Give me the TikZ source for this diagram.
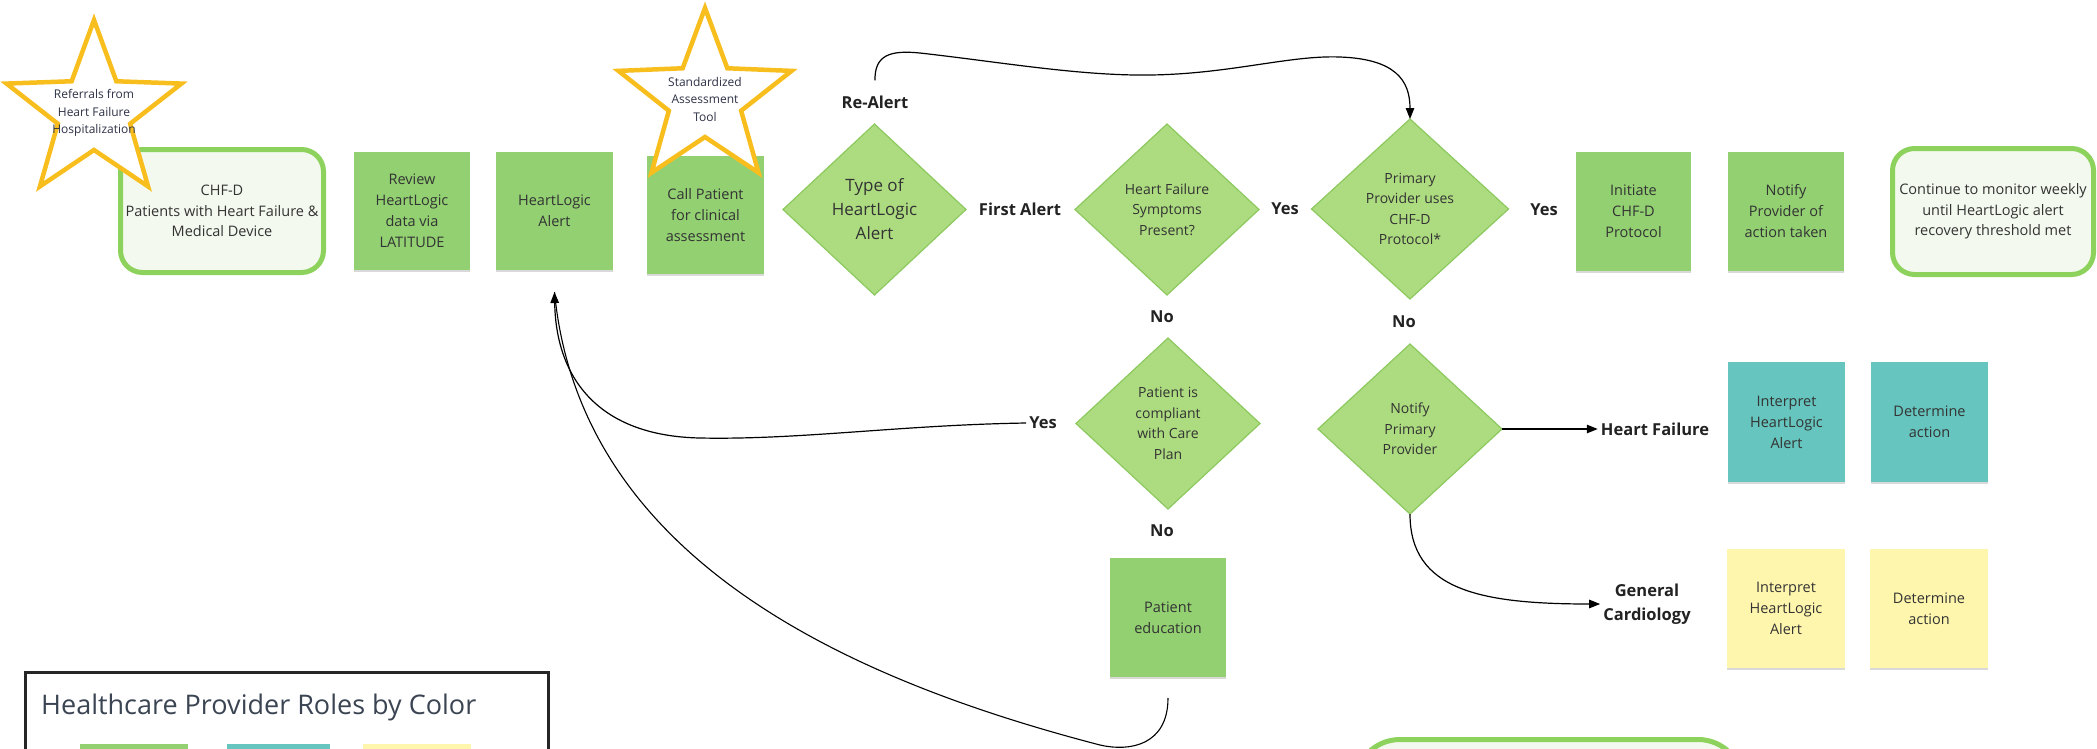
\documentclass[tikz,border=0pt]{standalone}
\usepackage{fontspec}
\setmainfont{Open Sans}
\usetikzlibrary{shapes.geometric,arrows.meta,calc,shadows}
\definecolor{boxgreen}{HTML}{92D072}
\definecolor{diagreen}{HTML}{ADDC80}
\definecolor{diaborder}{HTML}{8CC95E}
\definecolor{roundborder}{HTML}{8ED25E}
\definecolor{roundfill}{HTML}{F3F9EE}
\definecolor{tealbox}{HTML}{66C5BE}
\definecolor{yellowbox}{HTML}{FFF6AE}
\definecolor{stargold}{HTML}{F7BE1E}
\definecolor{txt}{HTML}{333333}
\definecolor{startxt}{HTML}{2E3246}
\definecolor{legtxt}{HTML}{3B4452}
\definecolor{lbltxt}{HTML}{222222}
\begin{document}
\begin{tikzpicture}[x=1pt,y=-1pt,
  every node/.style={text=txt},
  box/.style={fill=boxgreen, minimum width=117pt, minimum height=119pt, align=center,
    inner sep=0pt, outer sep=0pt, font=\fontsize{14.5}{21}\selectfont,
    drop shadow={shadow xshift=0pt, shadow yshift=-2pt, opacity=0.15, fill=black}},
  tealb/.style={box, fill=tealbox},
  yellowb/.style={box, fill=yellowbox},
  rbox/.style={draw=roundborder, line width=5pt, fill=roundfill, rounded corners=22pt,
    align=center, inner sep=0pt, outer sep=0pt, font=\fontsize{14.5}{20.5}\selectfont},
  dia/.style={diamond, aspect=1, draw=diaborder, line width=1.2pt, fill=diagreen,
    inner sep=0pt, outer sep=0pt},
  dtext/.style={align=center, inner sep=0pt, font=\fontsize{14}{20.4}\selectfont},
  lbl/.style={font=\bfseries\fontsize{16.5}{24}\selectfont, text=lbltxt, inner sep=3pt, align=center},
  starline/.style={draw=stargold, line width=4.5pt, fill=white, line join=miter},
  stext/.style={align=center, inner sep=0pt, text=startxt, font=\fontsize{12}{17.5}\selectfont},
  conn/.style={draw=black, line width=1.2pt, -{Triangle[length=11pt,width=8.5pt]}},
  plainconn/.style={draw=black, line width=1.1pt},
  legbox/.style={draw=black!85, line width=3pt, inner sep=0pt, outer sep=0pt},
  swatch/.style={inner sep=0pt, outer sep=0pt, minimum height=70pt}
]
\useasboundingbox (0,0) rectangle (2097,748);
\clip (0,0) rectangle (2097,748);

% ---------- top row ----------
\node[rbox, minimum width=203pt, minimum height=123pt] (chfd) at (222,211)
  {CHF-D\\Patients with Heart Failure \&\\Medical Device};
\node[box, minimum width=116pt, minimum height=118pt] (review) at (412,211)
  {Review\\HeartLogic\\data via\\LATITUDE};
\node[box, minimum width=117pt, minimum height=118pt] (hlalert) at (554.5,211)
  {HeartLogic\\Alert};
\node[box, minimum width=117pt, minimum height=118pt] (call) at (705.5,215)
  {Call Patient\\for clinical\\assessment};

% stars
\draw[starline, shift={(94,112)}] (-90:92) -- (-54:38) -- (-18:92) -- (18:38) -- (54:92)
  -- (90:38) -- (126:92) -- (162:38) -- (198:92) -- (234:38) -- cycle;
\node[stext] (star1t) at (94,113) {Referrals from\\Heart Failure\\Hospitalization};
\draw[starline, shift={(705,99)}] (-90:91) -- (-54:38) -- (-18:91) -- (18:38) -- (54:91)
  -- (90:38) -- (126:91) -- (162:38) -- (198:91) -- (234:38) -- cycle;
\node[stext] (star2t) at (705,99) {Standardized\\Assessment\\Tool};

\node[dia, minimum width=183pt, minimum height=171pt] (d1) at (874.5,209.5) {};
\node[dtext, font=\fontsize{17}{24}\selectfont] (d1t) at (d1) {Type of\\HeartLogic\\Alert};
\node[lbl] (realert) at (875,102) {Re-Alert};
\node[lbl] (firstalert) at (1020,209) {First Alert};

\node[dia, minimum width=184pt, minimum height=171pt] (d2) at (1167,209.5) {};
\node[dtext] (d2t) at (d2) {Heart Failure\\Symptoms\\Present?};
\node[lbl] (yes1) at (1285,209) {Yes};

\node[dia, minimum width=197pt, minimum height=180pt] (d3) at (1410,209) {};
\node[dtext] (d3t) at (d3) {Primary\\Provider uses\\CHF-D\\Protocol*};
\node[lbl] (yes2) at (1544,210) {Yes};

\node[box, minimum width=115pt] (initiate) at (1633.5,211.5) {Initiate\\CHF-D\\Protocol};
\node[box, minimum width=116pt] (notify) at (1786,211.5) {Notify\\Provider of\\action taken};
\node[rbox, minimum width=201pt, minimum height=126pt] (continue) at (1993,211.5)
  {Continue to monitor weekly\\until HeartLogic alert\\recovery threshold met};

% ---------- middle ----------
\node[lbl] (no1) at (1162,317) {No};
\node[lbl] (no2) at (1404,322) {No};

\node[dia, minimum width=184pt, minimum height=171pt] (d4) at (1168,423.5) {};
\node[dtext] (d4t) at (d4) {Patient is\\compliant\\with Care\\Plan};
\node[lbl] (yes3) at (1043,423) {Yes};

\node[dia, minimum width=184pt, minimum height=170pt] (d5) at (1410,429) {};
\node[dtext] (d5t) at (d5) {Notify\\Primary\\Provider};

\node[lbl] (hf) at (1655,429) {Heart Failure};
\node[lbl, font=\bfseries\fontsize{16.5}{24}\selectfont] (gc) at (1647,604) {General\\Cardiology};

\node[tealb, minimum width=117pt, minimum height=120pt] (interp1) at (1786.5,422) {Interpret\\HeartLogic\\Alert};
\node[tealb, minimum width=117pt, minimum height=120pt] (det1) at (1929.5,422) {Determine\\action};

\node[lbl] (no3) at (1162,531) {No};
\node[box, minimum width=116pt, minimum height=119pt] (pated) at (1168,617.5) {Patient\\education};

\node[yellowb, minimum width=118pt, minimum height=119pt] (interp2) at (1786,608.5) {Interpret\\HeartLogic\\Alert};
\node[yellowb, minimum width=118pt, minimum height=119pt] (det2) at (1929,608.5) {Determine\\action};

% ---------- legend & bottom box ----------
\node[legbox, minimum width=523pt, minimum height=160pt, anchor=north west] (legend) at (25,672) {};
\node[anchor=west, inner sep=0pt, text=legtxt, font=\fontsize{27}{32}\selectfont] (legtitle) at (41,707)
  {Healthcare Provider Roles by Color};
\node[swatch, fill=boxgreen, minimum width=108pt, anchor=north west] (swg) at (80,744) {};
\node[swatch, fill=tealbox, minimum width=103pt, anchor=north west] (swt) at (227,744) {};
\node[swatch, fill=yellowbox, minimum width=108pt, anchor=north west] (swy) at (363,744) {};
\node[rbox, rounded corners=45pt, minimum width=388pt, minimum height=110pt, anchor=north west] (bottombox) at (1355,739.5) {};

% ---------- connectors ----------
\coordinate (rastart) at ($(realert.north)+(0,-12)$);
\draw[conn] (rastart) .. controls (874.5,55) and (890,50) .. (920,53)
  .. controls (1000,62) and (1080,76) .. (1150,75)
  .. controls (1230,74) and (1290,55) .. (1340,57)
  .. controls (1395,59) and (1410,80) .. (d3.north);

\coordinate (hltip) at ($(hlalert.south)+(0,22)$);
\coordinate (pedout) at ($(pated.south)+(0,21)$);
\draw[plainconn] (pedout) .. controls (1168,745) and (1130,752) .. (1100,745)
  .. controls (850,680) and (580,560) .. (hltip);
\draw[conn] (yes3.west) .. controls (900,425) and (800,440) .. (700,438)
  .. controls (600,436) and (556,380) .. (hltip);

\draw[conn, line width=1.4pt] (d5.east) -- (hf.west);
\draw[conn] (d5.south) .. controls (1410,590) and (1480,604) .. (gc.west);
\end{tikzpicture}
\end{document}
